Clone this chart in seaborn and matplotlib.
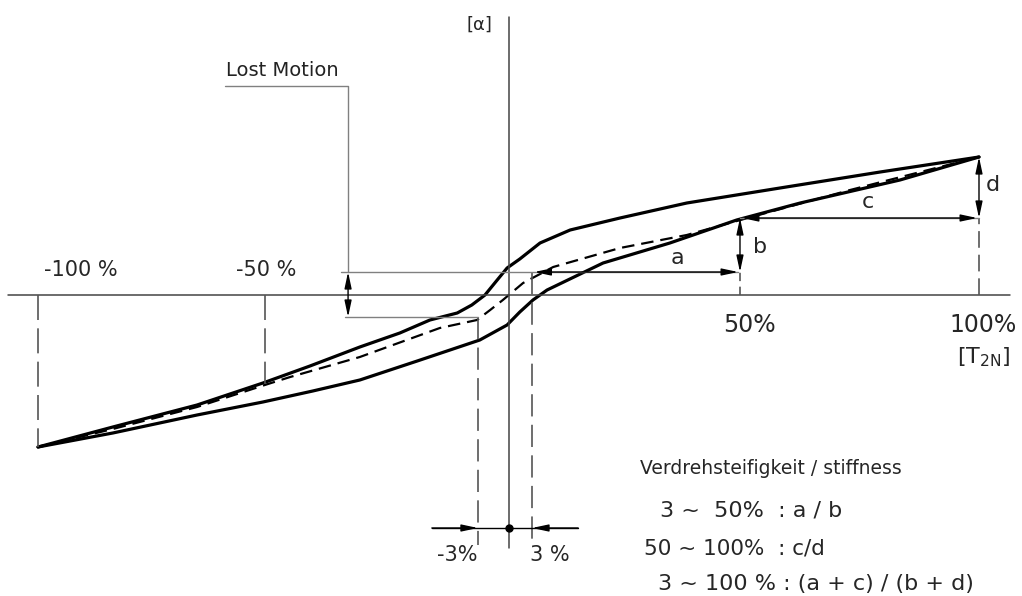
import matplotlib
matplotlib.use("Agg")
import matplotlib.pyplot as plt
import seaborn as sns
import pandas as pd

# torque in % of T2N, twist angle in drawing units
upper_torque = [-100, -84.1, -66.2, -52.2, -42.2, -31.6, -23.1, -16.7, -10.9, -7.8, -5.0, -2.4, -0.3,
                2.4, 6.7, 13.1, 23.7, 37.9, 57.7, 79.0, 100]
upper_twist = [-152, -132, -110, -88, -71, -52, -38, -25, -18, -10, 0, 15, 27,
               36, 52, 65, 77, 92, 107, 123, 138]

lower_torque = [-100, -84.1, -66.2, -52.2, -41.6, -31.6, -19.4, -6.1, -0.3, 2.4, 5.2, 8.2,
                20.1, 34.3, 48.5, 62.0, 83.2, 100]
lower_twist = [-152, -138, -120, -107, -96, -85, -66, -45, -30, -17, -5, 5,
               32, 52, 75, 92, 115, 138]

mean_torque = [-100, -84.1, -66.2, -51.8, -46.4, -31.6, -14.6, -6.7, -3.9, -1.2, 3.1, 9.5,
               23.7, 37.9, 48.5, 72.6, 100]
mean_twist = [-152, -134, -112, -90, -82, -62, -33, -25, -15, -5, 12, 28,
              47, 60, 74, 105, 138]

# reference levels
lost_top = 23        # twist at +3%
lost_bottom = -22    # twist at -3%
twist_50 = 77
twist_100 = 138
twist_m50 = -89
twist_m100 = -152
pos_3 = 5.0          # drawn position of +3 %
neg_3 = -6.5         # drawn position of -3 %

sns.set_style("white")
plt.rcParams['font.family'] = ['DejaVu Sans']
plt.rcParams['mathtext.default'] = 'regular'
plt.rcParams['lines.scale_dashes'] = False

fig = plt.figure(figsize=(10.22, 5.96), dpi=100)
ax = fig.add_axes([0, 0, 1, 1])

df_up = pd.DataFrame({"torque": upper_torque, "twist": upper_twist})
df_lo = pd.DataFrame({"torque": lower_torque, "twist": lower_twist})
df_me = pd.DataFrame({"torque": mean_torque, "twist": mean_twist})

sns.lineplot(data=df_up, x="torque", y="twist", color="black", lw=2.3, sort=False, estimator=None, ax=ax)
sns.lineplot(data=df_lo, x="torque", y="twist", color="black", lw=2.3, sort=False, estimator=None, ax=ax)
sns.lineplot(data=df_me, x="torque", y="twist", color="black", lw=1.6, sort=False, estimator=None,
             linestyle=(0, (9, 5)), ax=ax)

axis_col = "#444444"
thin_col = "#808080"
dash_col = "#555555"

# axes
ax.plot([-106.4, 106.6], [0, 0], color=axis_col, lw=1.1)
ax.plot([0, 0], [278, -253], color=axis_col, lw=1.1)

# dashed helper verticals
ax.plot([-100, -100], [0, twist_m100], color=dash_col, lw=1.2, linestyle=(0, (18, 6)))
ax.plot([-51.8, -51.8], [0, twist_m50], color=dash_col, lw=1.2, linestyle=(0, (18, 6)))
ax.plot([49.2, 49.2], [0, lost_top], color=dash_col, lw=1.2, linestyle=(0, (6, 4)))
ax.plot([100, 100], [0, twist_50], color=dash_col, lw=1.2, linestyle=(0, (12, 5)))
ax.plot([pos_3, pos_3], [lost_top, -250], color=dash_col, lw=1.2, linestyle=(0, (16, 6)))
ax.plot([neg_3, neg_3], [lost_bottom, -250], color=dash_col, lw=1.2, linestyle=(0, (16, 6)))

# lost motion
ax.plot([-60.3, -34.1, -34.1], [209, 209, lost_top], color=thin_col, lw=1.0)
ax.plot([-35.6, 48.8], [lost_top, lost_top], color=thin_col, lw=1.0)
ax.plot([-34.7, neg_3], [lost_bottom, lost_bottom], color=thin_col, lw=1.0)
ax.plot([49.2, 100], [twist_50, twist_50], color=thin_col, lw=1.0)

arrow = dict(arrowstyle="<|-|>,head_length=0.7,head_width=0.15", color="black", lw=1.0,
             shrinkA=0, shrinkB=0, mutation_scale=14)
single = dict(arrowstyle="-|>,head_length=0.7,head_width=0.15", color="black", lw=1.0,
              shrinkA=0, shrinkB=0, mutation_scale=14)
ax.annotate("", xy=(-34.1, lost_bottom), xytext=(-34.1, lost_top), arrowprops=arrow)
ax.annotate("", xy=(48.8, lost_top), xytext=(pos_3 + 0.5, lost_top), arrowprops=arrow)
ax.annotate("", xy=(49.2, twist_50), xytext=(49.2, lost_top), arrowprops=arrow)
ax.annotate("", xy=(99.6, twist_50), xytext=(49.6, twist_50), arrowprops=arrow)
ax.annotate("", xy=(100, twist_100), xytext=(100, twist_50), arrowprops=arrow)

# -3 % / 3 % dimension
ax.plot([-16.3, 14.8], [-233, -233], color="black", lw=1.0)
ax.annotate("", xy=(neg_3, -233), xytext=(-16.3, -233), arrowprops=single)
ax.annotate("", xy=(pos_3, -233), xytext=(14.8, -233), arrowprops=single)
ax.plot([0], [-233], marker="o", color="black", markersize=5)

# labels
ax.text(-6.1, 270, "[α]", fontsize=13, ha="center", va="center")
ax.text(-48, 225, "Lost Motion", fontsize=14, ha="center", va="center", color="#222222")
ax.text(-91, 25, "-100 %", fontsize=15, ha="center", va="center")
ax.text(-51.5, 25, "-50 %", fontsize=15, ha="center", va="center")
ax.text(51.3, -30, "50%", fontsize=17, ha="center", va="center")
ax.text(100.9, -30, "100%", fontsize=17, ha="center", va="center")
ax.text(100.9, -62, "[T$_{2N}$]", fontsize=16, ha="center", va="center")
ax.text(35.8, 37, "a", fontsize=16, ha="center", va="center")
ax.text(53.5, 48, "b", fontsize=16, ha="center", va="center")
ax.text(76.4, 93, "c", fontsize=16, ha="center", va="center")
ax.text(103, 110, "d", fontsize=16, ha="center", va="center")
ax.text(-10.9, -260, "-3%", fontsize=15, ha="center", va="center")
ax.text(8.8, -260, "3 %", fontsize=15, ha="center", va="center")

ax.text(28.05, -173, "Verdrehsteifigkeit / stiffness", fontsize=13.5, ha="left", va="center")
ax.text(32.2, -216, "3 ~  50%  : a / b", fontsize=16, ha="left", va="center")
ax.text(28.7, -253, "50 ~ 100%  : c/d", fontsize=15.5, ha="left", va="center")
ax.text(31.8, -289, "3 ~ 100 % : (a + c) / (b + d)", fontsize=16, ha="left", va="center")

ax.set_xlim(-108.08, 109.14)
ax.set_ylim(-301, 295)
ax.axis("off")

fig.savefig("out.png", dpi=100, facecolor="white")
